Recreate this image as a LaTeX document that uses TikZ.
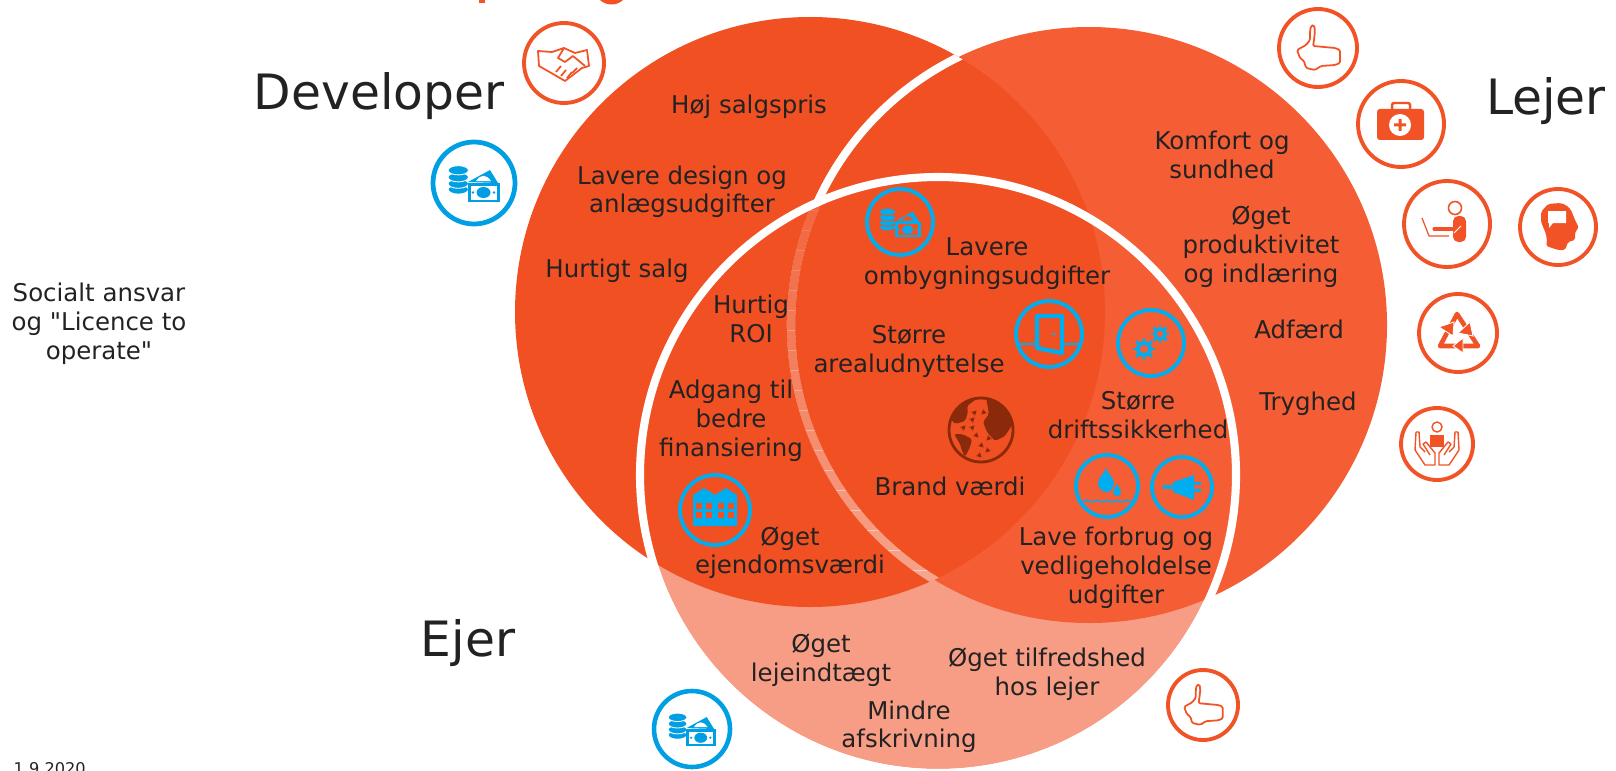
\documentclass[tikz,border=0pt]{standalone}
\usepackage{fontspec}
\usetikzlibrary{arrows.meta}
\setmainfont{DejaVu Sans}
\newfontfamily\plainfam{DejaVu Sans}
\definecolor{devred}{HTML}{F15023}
\definecolor{lejred}{HTML}{F55D34}
\definecolor{ejerlight}{HTML}{F79C85}
\definecolor{ringred}{HTML}{F15326}
\definecolor{ringblue}{HTML}{00AEEF}
\definecolor{ringbluedark}{HTML}{009FE3}
\definecolor{globebrown}{HTML}{8A2A0B}
\definecolor{txtdark}{HTML}{222222}
\tikzset{
  lbl/.style={text=txtdark,font=\fontsize{6.95}{8.2}\selectfont,align=center,inner sep=0pt,yshift=-0.8pt},
  bigname/.style={text=txtdark,font=\fontsize{13.85}{16}\selectfont,inner sep=0pt,yshift=-0.8pt},
  iconring/.style={line width=1.1pt,draw=#1},
  % coins and banknotes
  pics/moneyicon/.style 2 args={code={
    \foreach \yy in {6.5,0.7,-5.7,-12.7}
      \filldraw[fill=#1,draw=#2,line width=0.25pt] (-15.7,\yy) ellipse (10.2 and 4.6);
    \fill[#1] (-6,-1) -- (16,-13) -- (24,0) -- cycle;
    \fill[#2] (2,-2) .. controls (7,-9) and (12,-9) .. (17,-2) -- cycle;
    \fill[#1] (-6,0) rectangle (26,19);
    \fill[#2] (-3,3) rectangle (23,16.5);
    \fill[#1] (9.5,9.5) ellipse (7 and 5.5);
    \fill[#1] (-1,9.5) circle (1.4) (20,9.5) circle (1.4);
  }},
  % thumbs up
  pics/thumbicon/.style={code={
    \draw[#1,line width=0.5pt,rounded corners=0.4pt] (-7,-22) -- (-4,-23) -- (-3,-17) -- (-4,-8) -- (-5,-2)
      -- (17,0) -- (22,2) -- (22,15) -- (17,17) -- (3,18) -- (-3,22) -- (-12,20) -- (-14,13) -- (-18,10)
      -- (-21,2) -- (-12,-3) -- (-8,-8) -- (-8,-17) -- cycle;
  }}
}
\begin{document}
\begin{tikzpicture}[>=stealth,x=0.01cm,y=-0.01cm]
\useasboundingbox (0,0) rectangle (1616,770);

% Ejer circle, the pale part
\fill[ejerlight] (938,475) circle (294);

% Lejer and Developer circles
\fill[lejred] (1089,325) circle (298);
\fill[devred] (810,312) circle (295);

% Edge of Lejer inside Developer, white above Ejer and fading in inside it
\begin{scope}
  \clip (810,312) circle (295);
  \draw[white,line width=2.3pt] (1089,325) circle (298);
  \clip (938,475) circle (294);
  \draw[devred,line width=2.4pt] (1089,325) circle (298);
  \foreach \ya in {170,190,...,610} {
    \pgfmathsetmacro{\op}{0.1+(\ya-170)/440*0.42}
    \begin{scope}
      \clip (700,\ya) rectangle (1100,\ya+20);
      \draw[white,opacity=\op,line width=2.3pt] (1089,325) circle (298);
    \end{scope}
  }
\end{scope}

% White edge of Ejer
\draw[white,line width=2.3pt] (938,475) circle (298);

% Cut off title
\fill[ringred] (479,0) rectangle (485,3.5);
\fill[ringred] (600,0) .. controls (606,6) and (617,6) .. (623,0) -- cycle;

% Names
\node[bigname] (developer) at (379,93) {Developer};
\node[bigname] (lejer) at (1546,98) {Lejer};
\node[bigname] (ejer) at (468,640) {Ejer};
\node[lbl] (socialt) at (99,321) {Socialt ansvar\\og {\plainfam"}Licence to\\operate{\plainfam"}};
\node[font=\fontsize{4.6}{5.5}\selectfont,text=txtdark,anchor=north west,inner sep=0pt] (dato) at (13,762) {1.9.2020};

% Developer texts
\node[lbl] (salgspris) at (749,104) {Høj salgspris};
\node[lbl] (design) at (682,189) {Lavere design og\\anlægsudgifter};
\node[lbl] (salg) at (617,268) {Hurtigt salg};
\node[lbl] (roi) at (751,316) {Hurtig\\ROI};
\node[lbl] (finans) at (731,418) {Adgang til\\bedre\\finansiering};
\node[lbl] (ejendom) at (790,550) {Øget\\ejendomsværdi};

% Middle texts
\node[lbl] (ombyg) at (987,261) {Lavere\\ombygningsudgifter};
\node[lbl] (areal) at (909,349) {Større\\arealudnyttelse};
\node[lbl] (drift) at (1138,412) {Større\\driftssikkerhed};
\node[lbl] (brand) at (950,484) {Brand værdi};
\node[lbl] (forbrug) at (1116,565) {Lave forbrug og\\vedligeholdelse\\udgifter};

% Lejer texts
\node[lbl] (komfort) at (1222,152) {Komfort og\\sundhed};
\node[lbl] (produkt) at (1261,244) {Øget\\produktivitet\\og indlæring};
\node[lbl] (adfaerd) at (1299,327) {Adfærd};
\node[lbl] (tryghed) at (1308,401) {Tryghed};

% Ejer texts
\node[lbl] (lejeind) at (821,657) {Øget\\lejeindtægt};
\node[lbl] (tilfreds) at (1047,671) {Øget tilfredshed\\hos lejer};
\node[lbl] (afskriv) at (909,724) {Mindre\\afskrivning};

% Handshake
\draw[iconring=ringred] (564,63) circle (40);
\begin{scope}[shift={(564,63)},ringred,line width=0.5pt,line join=round]
  \draw (-26,-12) -- (-12,-11) -- (0,-15) -- (11,-10) -- (23,-13) -- (25,3) -- (18,5) -- (1,18) -- (-11,11) -- (-25,3) -- cycle;
  \draw (0,-15) -- (-6,-5) -- (1,-1) -- (9,-7) -- (21,3);
  \draw (-8,9) -- (-3,3) (-3,13) -- (2,7) (3,15) -- (8,9) (8,10) -- (13,5);
\end{scope}

% Money at Developer, in the middle and at Ejer
\draw[iconring=ringbluedark,line width=1.35pt] (474,183) circle (41);
\pic at (474,183) {moneyicon={ringbluedark}{white}};
\draw[iconring=ringblue] (900,222) circle (33);
\pic[scale=0.8] at (900,222) {moneyicon={ringblue}{devred}};
\draw[iconring=ringbluedark,line width=1.3pt] (692,729) circle (38);
\pic[scale=0.92] at (692,729) {moneyicon={ringbluedark}{white}};

% Thumbs
\draw[iconring=ringred] (1318,48) circle (39);
\pic at (1318,48) {thumbicon=ringred};
\draw[iconring=ringred] (1203,705) circle (35);
\pic[scale=0.9] at (1203,705) {thumbicon=ringred};

% First aid kit
\draw[iconring=ringred] (1401,124) circle (43);
\begin{scope}[shift={(1401,124)}]
  \draw[ringred,line width=0.7pt,rounded corners=0.6pt] (-9,-15) -- (-9,-21) -- (9,-21) -- (9,-15);
  \fill[ringred,rounded corners=0.8pt] (-24,-15) rectangle (23,16);
  \fill[white] (-1,1) circle (11);
  \fill[ringred] (-7,-0.5) rectangle (5,2.5) (-2.5,-5) rectangle (0.5,7);
\end{scope}

% Person at laptop
\draw[iconring=ringred] (1447,224) circle (43);
\begin{scope}[shift={(1447,224)},ringred]
  \draw[line width=0.45pt] (8,-16) circle (6.5);
  \fill[rounded corners=1.5pt] (6,18) -- (6,-8) -- (19,-8) -- (19,18) -- cycle;
  \draw[line width=0.9pt,line cap=round] (-13,5) -- (10,5);
  \draw[white,line width=0.25pt] (7,9) -- (14,2);
  \draw[line width=0.35pt] (-25,-6) -- (-18,12) -- (2,12);
\end{scope}

% Head with speech bubble
\draw[iconring=ringred] (1558,227) circle (38);
\begin{scope}[shift={(1558,227)}]
  \fill[ringred,rounded corners=0.5pt] (2,-24) -- (-10,-23) -- (-17,-15) -- (-17,-5) -- (-12,7) -- (-11,15) -- (-12,19)
    -- (0,23) -- (7,23) -- (10,15) -- (17,13) -- (17,7) -- (18,3) -- (21,1) -- (17,-7) -- (13,-17) -- (8,-22) -- cycle;
  \fill[white] (-10,-16) rectangle (8,-4) (-9,-4) -- (-9,1) -- (-5,-4) -- cycle;
\end{scope}

% Recycling
\draw[iconring=ringred] (1458,333) circle (39);
\begin{scope}[shift={(1458,333)},ringred]
  \draw[line width=1.3pt,line join=round] (-1,-19) -- (-18,13) -- (20,13) -- cycle;
  \filldraw[draw=white,line width=0.25pt] (-4,-11) -- (-19,-6) -- (-5,3) -- cycle;
  \filldraw[draw=white,line width=0.25pt] (12,-11) -- (15,3) -- (0,0) -- cycle;
  \filldraw[draw=white,line width=0.25pt] (-5,13) -- (5,5) -- (5,20) -- cycle;
\end{scope}

% Person in hands
\draw[iconring=ringred] (1437,444) circle (36);
\begin{scope}[shift={(1437,444)},ringred]
  \draw[line width=0.4pt] (0,-17) circle (5);
  \fill (-7,-9) rectangle (7,3);
  \foreach \s in {1,-1}
    \draw[xscale=\s,line width=0.4pt,line join=round] (-21,-12) -- (-22,6) -- (-12,21) -- (-2,21) -- (-2,9)
      -- (-11,-2) -- (-14,0) -- (-7,11) (-21,-12) -- (-18,-12) -- (-17,3) -- (-12,8);
\end{scope}

% Door
\draw[iconring=ringblue] (1049,334) circle (33);
\begin{scope}[shift={(1049,334)},ringblue]
  \draw[line width=0.8pt] (-32,10) -- (-12,10) (13,10) -- (32,10);
  \draw[line width=1.2pt,line join=round] (-12,-18) -- (13,-18) -- (13,19) -- (-12,14) -- cycle;
  \draw[line width=0.4pt] (3,0) -- (6,0);
\end{scope}

% Gears
\draw[iconring=ringblue] (1151,343) circle (33);
\begin{scope}[shift={(1151,343)},ringblue]
  \foreach \px/\py/\rr in {-7/6/8,9/-9/6.2} {
    \foreach \ang in {0,45,...,315}
      \draw[line width=0.8pt] (\px,\py) -- ++(\ang:\rr+3);
    \fill (\px,\py) circle (\rr);
    \fill[lejred] (\px,\py) circle (\rr*0.5);
  }
\end{scope}

% Globe
\draw[globebrown,line width=0.8pt] (981,430) circle (32);
\begin{scope}[shift={(981,430)}]
  \begin{scope}
    \clip (0,0) circle (32);
    \fill[globebrown,rounded corners=0.5pt] (5,-33) -- (19,-26) -- (33,-8) -- (24,6) -- (14,11) -- (6,2) -- (2,-8) -- (8,-16) -- cycle;
    \fill[globebrown,rounded corners=0.5pt] (-18,-28) -- (-2,-33) -- (-14,-24) -- (-13,-18) -- (-16,-9) -- (-26,-6) -- (-33,-14) -- cycle;
    \fill[globebrown,rounded corners=0.5pt] (-27,4) -- (-19,4) -- (-9,9) -- (-11,17) -- (-16,27) -- (-19,21) -- (-21,14) -- cycle;
  \end{scope}
  \foreach \px/\py/\ang in {-8/-16/-45,4/-19/135,-10/-9/-45,-19/-1/-45,-10/-1/-45,-6/4/45,9/7/135,-1/14/45,8/19/135,-3/24/45}
    \draw[->,globebrown,line width=0.35pt,>={Stealth[length=1.5pt,width=1.6pt]}] (\px,\py) -- ++(\ang:5);
\end{scope}

% Water drops
\draw[iconring=ringblue] (1107,486) circle (31);
\begin{scope}[shift={(1107,486)},ringblue]
  \fill (-1,-18) .. controls (-3,-12) and (-9,-8) .. (-9,-3) .. controls (-9,3) and (-4,6) .. (-1,6)
    .. controls (3,6) and (7,3) .. (7,-3) .. controls (7,-8) and (1,-12) .. (-1,-18) -- cycle;
  \fill (10,-2) .. controls (9,1) and (6,3) .. (6,6) .. controls (6,9) and (8,10) .. (10,10)
    .. controls (12,10) and (14,9) .. (14,6) .. controls (14,3) and (11,1) .. (10,-2) -- cycle;
  \draw[line width=0.4pt] (-30,14) to[bend right=40] (-20,14) to[bend right=40] (-10,14) to[bend right=40] (0,14)
    to[bend right=40] (10,14) to[bend right=40] (20,14) to[bend right=40] (30,14);
\end{scope}

% Plug
\draw[iconring=ringblue] (1182,487) circle (30);
\begin{scope}[shift={(1182,487)},ringblue]
  \fill (-9,-5) -- (12,-12) -- (12,13) -- (-9,5) -- cycle;
  \fill (-19,-2) rectangle (-9,2);
  \fill (12,-5) rectangle (19,-2.5) (12,2) rectangle (19,5);
\end{scope}

% Building
\draw[iconring=ringblue] (715,510) circle (35);
\begin{scope}[shift={(715,510)}]
  \fill[ringblue] (-22,-15) -- (-11,-22) -- (0,-15) -- (11,-22) -- (22,-15) -- (22,16) -- (-22,16) -- cycle;
  \foreach \px in {-19.5,-9.2,2.7,12.7}
    \foreach \py in {-7,2}
      \fill[devred] (\px,\py) rectangle ++(6,5.5);
\end{scope}

\end{tikzpicture}
\end{document}
